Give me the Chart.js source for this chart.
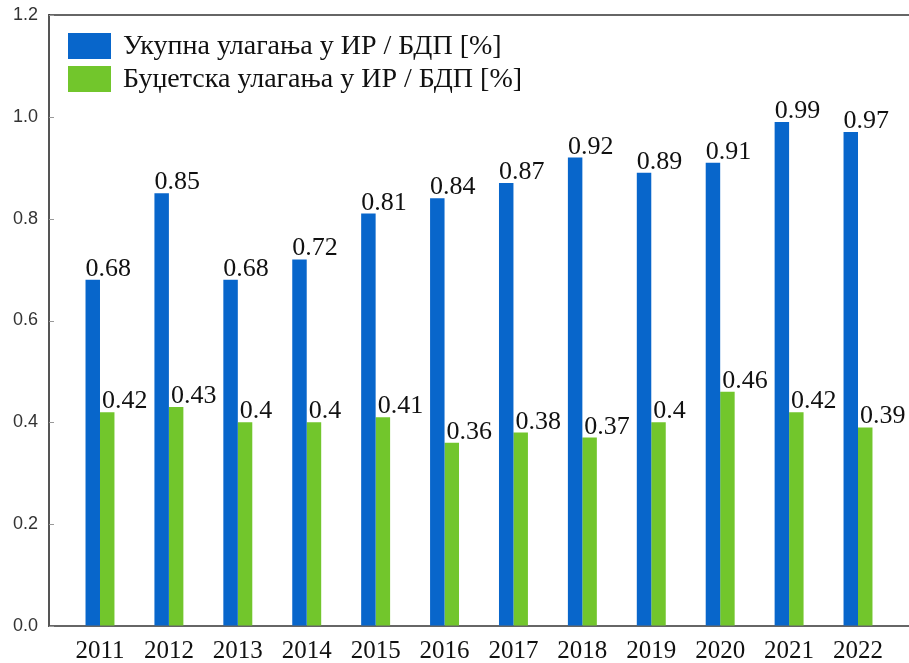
<!DOCTYPE html>
<html>
<head>
<meta charset="utf-8">
<script src="https://cdn.jsdelivr.net/npm/chart.js@4/dist/chart.umd.min.js"></script>
<style>
html,body{margin:0;padding:0;background:#fff;}
#wrap{position:relative;width:909px;height:663px;}
</style>
</head>
<body>
<div id="wrap"><canvas id="c" width="909" height="663"></canvas></div>
<script>
const years = [2011, 2012, 2013, 2014, 2015, 2016, 2017, 2018, 2019, 2020, 2021, 2022];
const totalInvest = [0.68, 0.85, 0.68, 0.72, 0.81, 0.84, 0.87, 0.92, 0.89, 0.91, 0.99, 0.97];
const budgetInvest = [0.42, 0.43, 0.4, 0.4, 0.41, 0.36, 0.38, 0.37, 0.4, 0.46, 0.42, 0.39];
const yTicks = [0.0, 0.2, 0.4, 0.6, 0.8, 1.0, 1.2];
const seriesNames = ['Укупна улагања у ИР / БДП [%]', 'Буџетска улагања у ИР / БДП [%]'];

const SERIF = '"Liberation Serif", "Times New Roman", serif';
const SANS = '"Liberation Sans", Arial, sans-serif';

const frame = {
  id: 'frame',
  afterDraw(chart) {
    const {ctx, chartArea} = chart;
    ctx.save();
    // top border
    ctx.strokeStyle = '#333';
    ctx.lineWidth = 1.5;
    ctx.beginPath();
    ctx.moveTo(chartArea.left, chartArea.top);
    ctx.lineTo(chartArea.right, chartArea.top);
    ctx.stroke();
    // inward ticks on y axis
    const ys = chart.scales.y;
    ctx.strokeStyle = '#999';
    ctx.lineWidth = 1;
    ys.ticks.forEach(t => {
      const py = Math.round(ys.getPixelForValue(t.value)) + 0.5;
      ctx.beginPath();
      ctx.moveTo(chartArea.left, py);
      ctx.lineTo(chartArea.left + 5, py);
      ctx.stroke();
    });
    // data labels
    ctx.fillStyle = '#111';
    ctx.font = '26px ' + SERIF;
    ctx.textAlign = 'left';
    ctx.textBaseline = 'alphabetic';
    chart.data.datasets.forEach((ds, di) => {
      const meta = chart.getDatasetMeta(di);
      meta.data.forEach((bar, i) => {
        const v = ds.data[i].y;
        ctx.fillText(String(v), bar.x - bar.width / 2 + (di === 1 ? 2 : 0), bar.y - 4);
      });
    });
    // legend
    ctx.font = '28px ' + SERIF;
    ctx.textBaseline = 'middle';
    chart.data.datasets.forEach((ds, di) => {
      const top = 33 + di * 33;
      ctx.fillStyle = ds.backgroundColor;
      ctx.fillRect(68, top, 43, 26);
      ctx.fillStyle = '#111';
      ctx.fillText(ds.label, 123, top + 14);
    });
    ctx.restore();
  }
};

new Chart(document.getElementById('c'), {
  type: 'bar',
  data: {
    datasets: [
      {
        label: seriesNames[0],
        data: years.map((yr, i) => ({x: yr, y: totalInvest[i]})),
        backgroundColor: '#0866cb',
        categoryPercentage: 0.42,
        barPercentage: 1.0
      },
      {
        label: seriesNames[1],
        data: years.map((yr, i) => ({x: yr, y: budgetInvest[i]})),
        backgroundColor: '#72c62c',
        categoryPercentage: 0.42,
        barPercentage: 1.0
      }
    ]
  },
  options: {
    responsive: false,
    animation: false,
    events: [],
    layout: {padding: {top: 15, right: 0, left: 0, bottom: 0}},
    plugins: {legend: {display: false}, tooltip: {enabled: false}},
    scales: {
      x: {
        type: 'linear',
        offset: false,
        min: 2010.26,
        max: 2022.74,
        afterBuildTicks: s => { s.ticks = years.map(v => ({value: v})); },
        afterFit: s => { s.height = 37; s.paddingLeft = 0; s.paddingRight = 0; },
        grid: {display: true, drawOnChartArea: false, drawTicks: false, offset: false},
        border: {display: true, color: '#666', width: 2},
        ticks: {
          autoSkip: false,
          maxRotation: 0,
          padding: 10,
          color: '#111',
          font: {family: SERIF, size: 25},
          callback: v => String(v)
        }
      },
      y: {
        min: 0,
        max: 1.2,
        afterBuildTicks: s => { s.ticks = yTicks.map(v => ({value: v})); },
        afterFit: s => { s.width = 49; s.paddingTop = 0; s.paddingBottom = 0; },
        grid: {display: true, drawOnChartArea: false, drawTicks: false},
        border: {display: true, color: '#555', width: 2},
        ticks: {
          padding: 11,
          color: '#333',
          font: {family: SANS, size: 18},
          callback: v => v.toFixed(1)
        }
      }
    }
  },
  plugins: [frame]
});
</script>
</body>
</html>
